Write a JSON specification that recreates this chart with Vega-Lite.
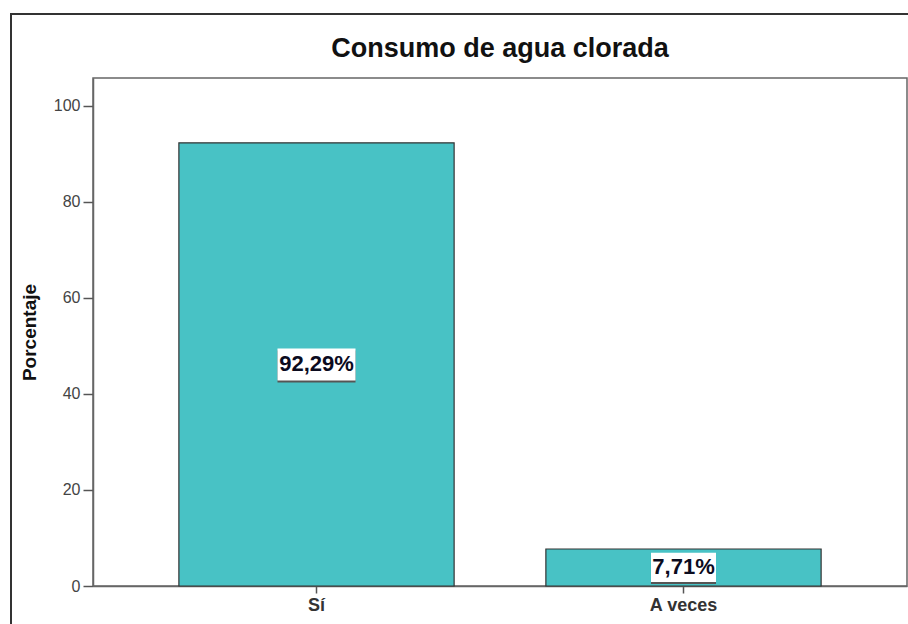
{
  "$schema": "https://vega.github.io/schema/vega-lite/v6.json",
  "width": 814,
  "height": 508,
  "autosize": {"type": "none"},
  "padding": {"left": 93, "top": 78, "right": 1, "bottom": 38},
  "background": "white",
  "title": {
    "text": "Consumo de agua clorada",
    "frame": "group",
    "font": "Liberation Sans",
    "fontSize": 27,
    "fontWeight": "bold",
    "color": "#111111",
    "anchor": "middle",
    "offset": -50
  },
  "data": {
    "values": [
      {"respuesta": "Sí", "pct": 92.29},
      {"respuesta": "A veces", "pct": 7.71}
    ]
  },
  "transform": [
    {"calculate": "datum.pct / 2", "as": "mitad"},
    {"calculate": "replace(format(datum.pct, '.2f'), '.', ',') + '%'", "as": "etiqueta"}
  ],
  "encoding": {
    "x": {
      "field": "respuesta",
      "type": "nominal",
      "sort": ["Sí", "A veces"],
      "scale": {"paddingInner": 0.25, "paddingOuter": 0.234},
      "axis": {
        "title": null,
        "labelAngle": 0,
        "labelFont": "Liberation Sans",
        "labelFontSize": 18,
        "labelFontWeight": "bold",
        "labelColor": "#333333",
        "labelPadding": 3,
        "tickSize": 7,
        "tickColor": "#555555",
        "tickWidth": 1.5,
        "domainColor": "#666666",
        "domainWidth": 1.5
      }
    }
  },
  "layer": [
    {
      "mark": {"type": "rect", "fill": null, "stroke": "#333333", "strokeWidth": 2, "clip": false},
      "encoding": {
        "x": {"value": -82},
        "y": {"value": -64},
        "x2": {"value": 900},
        "y2": {"value": 700}
      }
    },
    {
      "mark": {"type": "bar", "color": "#48C2C5", "stroke": "#333333", "strokeWidth": 1.2},
      "encoding": {
        "y": {
          "field": "pct",
          "type": "quantitative",
          "scale": {"domain": [0, 105.8], "nice": false},
          "axis": {
            "title": "Porcentaje",
            "titleFont": "Liberation Sans",
            "titleFontSize": 19,
            "titleFontWeight": "bold",
            "titleColor": "#111111",
            "titlePadding": 14,
            "values": [0, 20, 40, 60, 80, 100],
            "grid": false,
            "labelFont": "Liberation Sans",
            "labelFontSize": 16,
            "labelColor": "#444444",
            "labelPadding": 3,
            "tickSize": 10,
            "tickColor": "#555555",
            "tickWidth": 1.5,
            "domainColor": "#666666",
            "domainWidth": 1.5
          }
        }
      }
    },
    {
      "mark": {"type": "point", "filled": true, "color": "#555555", "opacity": 1, "yOffset": 2, "strokeWidth": 0},
      "encoding": {
        "y": {"field": "mitad", "type": "quantitative"},
        "shape": {
          "condition": {"test": "datum.respuesta === 'Sí'", "value": "M-1,-0.41L1,-0.41L1,0.41L-1,0.41Z"},
          "value": "M-1,-0.45L1,-0.45L1,0.45L-1,0.45Z"
        },
        "size": {"condition": {"test": "datum.respuesta === 'Sí'", "value": 6084}, "value": 4225}
      }
    },
    {
      "mark": {"type": "point", "filled": true, "color": "white", "opacity": 1, "strokeWidth": 0},
      "encoding": {
        "y": {"field": "mitad", "type": "quantitative"},
        "shape": {
          "condition": {"test": "datum.respuesta === 'Sí'", "value": "M-1,-0.41L1,-0.41L1,0.41L-1,0.41Z"},
          "value": "M-1,-0.45L1,-0.45L1,0.45L-1,0.45Z"
        },
        "size": {"condition": {"test": "datum.respuesta === 'Sí'", "value": 6084}, "value": 4225}
      }
    },
    {
      "mark": {
        "type": "text",
        "font": "Liberation Sans",
        "fontSize": 22,
        "fontWeight": "bold",
        "color": "#0b0b1e",
        "baseline": "middle",
        "align": "center"
      },
      "encoding": {
        "y": {"field": "mitad", "type": "quantitative"},
        "text": {"field": "etiqueta", "type": "nominal"}
      }
    }
  ],
  "config": {
    "view": {"stroke": "#666666", "strokeWidth": 1.5}
  }
}
